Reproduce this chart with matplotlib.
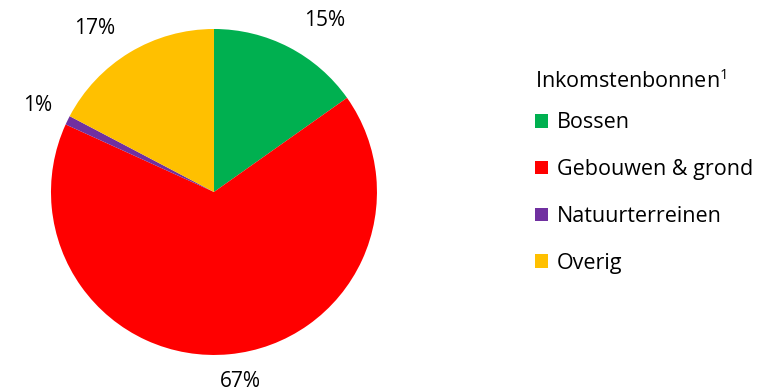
import matplotlib.pyplot as plt

plt.rcParams['font.family'] = ['Open Sans', 'DejaVu Sans']
plt.rcParams['mathtext.default'] = 'regular'

# data
categories = ['Bossen', 'Gebouwen & grond', 'Natuurterreinen', 'Overig']
shares = [15.2, 66.6, 0.9, 17.3]
pct_labels = ['15%', '67%', '1%', '17%']
colors = ['#00B050', '#FF0000', '#7030A0', '#FFC000']

# label spots around the pie (axes units, radius = 1)
label_pos = [(0.68, 1.055), (0.16, -1.16), (-1.08, 0.528), (-0.73, 1.006)]

fig = plt.figure(figsize=(7.69, 3.91), dpi=100)
ax = fig.add_axes([0.0663, 0.092, 0.4239, 0.834])

wedges, texts = ax.pie(
    shares,
    colors=colors,
    startangle=90,
    counterclock=False,
    labels=pct_labels,
    textprops={'fontsize': 15, 'color': '#000000'},
    wedgeprops={'linewidth': 0},
)
for t, p in zip(texts, label_pos):
    t.set_position(p)
    t.set_horizontalalignment('center')
    t.set_verticalalignment('center')
ax.set_xlim(-1, 1)
ax.set_ylim(-1, 1)
ax.set_aspect('equal')
ax.axis('off')

leg = fig.legend(
    wedges, categories,
    title='Inkomstenbonnen$^1$',
    loc='upper left',
    bbox_to_anchor=(0.684, 0.845),
    frameon=False,
    fontsize=15.5,
    title_fontsize=15.5,
    handlelength=0.6,
    handleheight=0.6,
    handletextpad=0.45,
    labelspacing=1.2,
    alignment='left',
    borderaxespad=0,
)
# tighter gap between title and first entry
leg._legend_box.sep = 1.2 * 15.5 - 4.5

plt.savefig('out.png', dpi=100)
